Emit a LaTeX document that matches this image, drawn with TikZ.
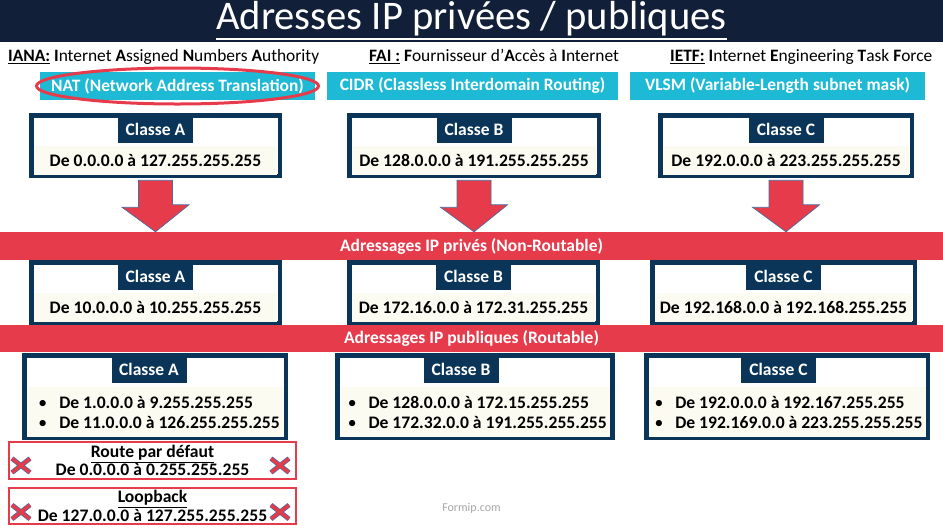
\documentclass[tikz,border=0pt]{standalone}
\usepackage{fontspec}
\setmainfont{Carlito}
\usetikzlibrary{positioning}
\definecolor{titlebg}{HTML}{121F38}
\definecolor{navy}{HTML}{0B3558}
\definecolor{bandred}{HTML}{E63B4B}
\definecolor{cyanbox}{HTML}{1DB9D5}
\definecolor{cream}{HTML}{FCFBF1}
\definecolor{arrowline}{HTML}{4C6A9C}
\tikzset{font={\fontsize{17.4pt}{20pt}\selectfont}}
\newsavebox{\ulbox}
\newcommand{\undl}[2][1.2pt]{\sbox{\ulbox}{#2}\rlap{\rule[-\dimexpr\dp\ulbox+1.5pt+#1\relax]{\wd\ulbox}{#1}}\usebox{\ulbox}}
\newcommand{\puce}[3]{\makebox[#1][l]{\hspace*{#2}\textmd{\textbullet}\hspace{12pt}#3}}

\begin{document}
\begin{tikzpicture}[x=1pt,y=-1pt,
classe box/.style={draw=navy,line width=4.5pt,fill=white,inner sep=0pt},
classe head/.style={fill=navy,text=white,minimum width=75pt,minimum height=26pt,inner sep=0pt,font={\bfseries\fontsize{17.5pt}{20pt}\selectfont}},
plage/.style={fill=cream,inner sep=0pt,font={\bfseries\fontsize{17.6pt}{20pt}\selectfont}},
bande/.style={fill=bandred,text=white,minimum width=943pt,minimum height=28pt,inner sep=0pt,font={\bfseries\fontsize{17.5pt}{20pt}\selectfont}},
techno/.style={fill=cyanbox,text=white,minimum height=28pt,inner sep=0pt,font={\bfseries\fontsize{17.4pt}{20pt}\selectfont}},
fleche/.style={fill=bandred,draw=arrowline,line width=0.7pt},
exclue/.style={draw=bandred,line width=2pt,fill=white,minimum width=287pt,inner sep=0pt,align=center,font={\bfseries\fontsize{17.6pt}{17pt}\selectfont}},
croix/.pic={\draw[arrowline,line width=4.8pt] (-9,-7) -- (9,7) (-9,7) -- (9,-7);
\draw[bandred,line width=3.2pt] (-9,-7) -- (9,7) (-9,7) -- (9,-7);}
]
\useasboundingbox (0,0) rectangle (943,531);

\node[fill=titlebg,minimum width=943pt,minimum height=42pt,inner sep=0pt,text=white,font={\fontsize{40.6pt}{44pt}\selectfont}] (titre) at (471.5,21) {\undl[2.5pt]{Adresses IP privées / publiques}};

\node[anchor=base west,inner sep=0pt] (iana) at (8,61) {\undl{\textbf{IANA:}} \textbf{I}nternet \textbf{A}ssigned \textbf{N}umbers \textbf{A}uthority};
\node[anchor=base west,inner sep=0pt] (fai) at (369,61) {\undl{\textbf{FAI :}} \textbf{F}ournisseur d’\textbf{A}ccès à \textbf{I}nternet};
\node[anchor=base west,inner sep=0pt] (ietf) at (670,61) {\undl{\textbf{IETF:}} \textbf{I}nternet \textbf{E}ngineering \textbf{T}ask \textbf{F}orce};

\node[techno,minimum width=275pt] (nat) at (177.5,86) {NAT (Network Address Translation)};
\node[techno,minimum width=291pt] (cidr) at (472.5,86) {CIDR (Classless Interdomain Routing)};
\node[techno,minimum width=295pt] (vlsm) at (777.5,86) {VLSM (Variable-Length subnet mask)};
\draw[bandred,line width=3pt] (nat.center) ellipse [x radius=141pt,y radius=18pt];

\node[bande] (prive) at (471.5,246) {Adressages IP privés (Non-Routable)};
\node[bande,minimum height=27pt] (public) at (471.5,338.5) {Adressages IP publiques (Routable)};

\foreach \nom/\px/\lw/\cl/\pl in {A1/155.5/248.5/A/{De 0.0.0.0 à 127.255.255.255},B1/474/249.5/B/{De 128.0.0.0 à 191.255.255.255},C1/786/251.5/C/{De 192.0.0.0 à 223.255.255.255}}{
\node[classe box,minimum width=\lw pt,minimum height=60.5pt] (\nom) at (\px,145.5) {};
\node[classe head,below=3.5pt of \nom.north] (h\nom) {Classe \cl};
\node[plage,minimum width=\lw pt-5pt,minimum height=29pt,above=2.5pt of \nom.south] (p\nom) {\pl};
\filldraw[fleche] ([xshift=-17pt,yshift=-2.25pt]\nom.south) -- ++(0,27) -- ++(-16.5,0) -- (\nom.south |- prive.north) -- ++(33.5,-27) -- ++(-16.5,0) -- ([xshift=17pt,yshift=-2.25pt]\nom.south) -- cycle;
}

\foreach \nom/\px/\lw/\cl/\pl in {A2/155.5/248.5/A/{De 10.0.0.0 à 10.255.255.255},B2/473.5/248.5/B/{De 172.16.0.0 à 172.31.255.255},C2/783.5/262.5/C/{De 192.168.0.0 à 192.168.255.255}}{
\node[classe box,minimum width=\lw pt,minimum height=60.5pt] (\nom) at (\px,292.5) {};
\node[classe head,below=3.5pt of \nom.north] (h\nom) {Classe \cl};
\node[plage,minimum width=\lw pt-5pt,minimum height=29pt,above=2.5pt of \nom.south] (p\nom) {\pl};
}

\node[classe box,minimum width=261.5pt,minimum height=82.5pt] (A3) at (155,396.5) {};
\node[classe head,below=3.5pt of A3.north,xshift=-6pt] (hA3) {Classe A};
\node[plage,align=left,minimum height=50pt,above=2.5pt of A3.south] (pA3) {\puce{257pt}{12pt}{De 1.0.0.0 à 9.255.255.255}\\\puce{257pt}{12pt}{De 11.0.0.0 à 126.255.255.255}};
\node[classe box,minimum width=275pt,minimum height=82.5pt] (B3) at (475,396.5) {};
\node[classe head,below=3.5pt of B3.north,xshift=-14pt] (hB3) {Classe B};
\node[plage,align=left,minimum height=50pt,above=2.5pt of B3.south] (pB3) {\puce{270.5pt}{8pt}{De 128.0.0.0 à 172.15.255.255}\\\puce{270.5pt}{8pt}{De 172.32.0.0 à 191.255.255.255}};
\node[classe box,minimum width=281.5pt,minimum height=82.5pt] (C3) at (787,396.5) {};
\node[classe head,below=3.5pt of C3.north,xshift=-8.5pt] (hC3) {Classe C};
\node[plage,align=left,minimum height=50pt,above=2.5pt of C3.south] (pC3) {\puce{277pt}{6pt}{De 192.0.0.0 à 192.167.255.255}\\\puce{277pt}{6pt}{De 192.169.0.0 à 223.255.255.255}};

\node[exclue,minimum height=37pt] (defaut) at (152.5,460.5) {\undl{Route par défaut}\\De 0.0.0.0 à 0.255.255.255};
\node[exclue,minimum height=36pt] (loop) at (152.5,506) {\undl{Loopback}\\De 127.0.0.0 à 127.255.255.255};
\pic at ([xshift=13pt,yshift=-5pt]defaut.west) {croix};
\pic at ([xshift=-17pt,yshift=-5pt]defaut.east) {croix};
\pic at ([xshift=13pt,yshift=-6pt]loop.west) {croix};
\pic at ([xshift=-17pt,yshift=-6pt]loop.east) {croix};

\node[text=gray!70,font={\fontsize{12pt}{14pt}\selectfont}] (source) at (471.5,508) {Formip.com};
\end{tikzpicture}
\end{document}
